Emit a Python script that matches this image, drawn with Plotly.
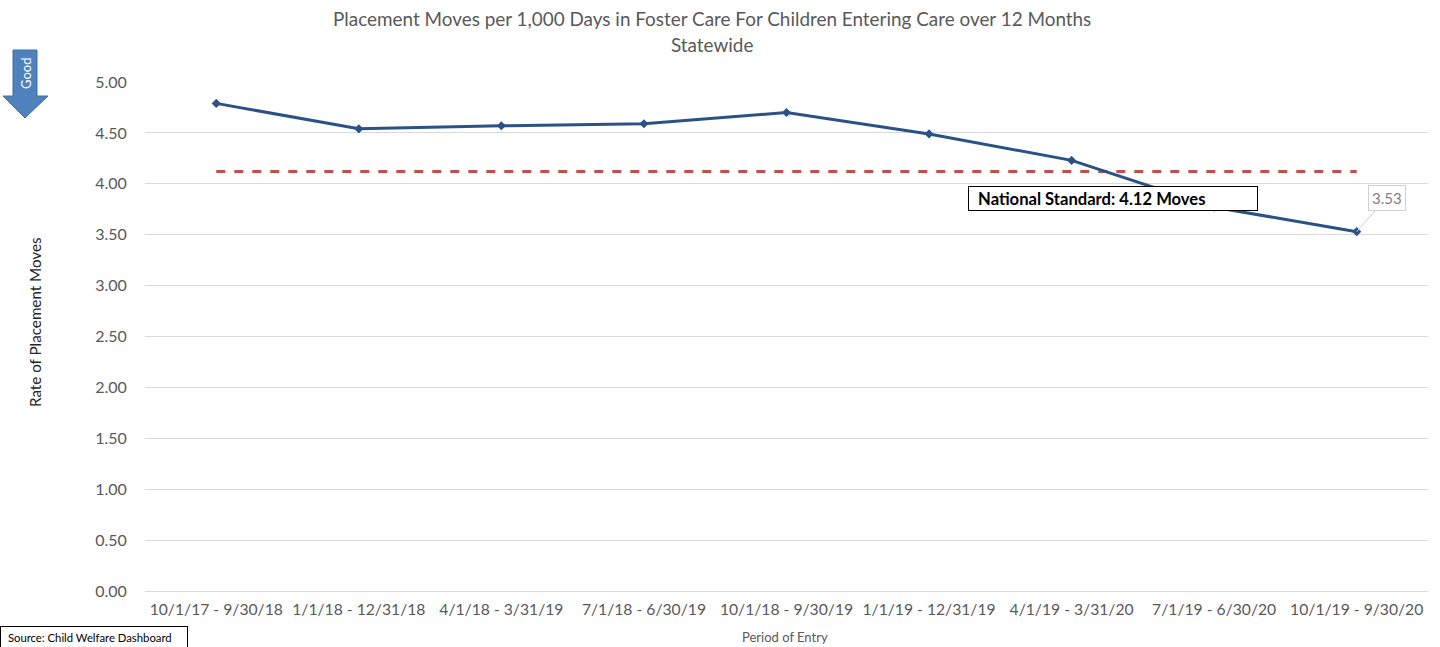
import plotly.graph_objects as go

periods = ["10/1/17 - 9/30/18", "1/1/18 - 12/31/18", "4/1/18 - 3/31/19", "7/1/18 - 6/30/19",
           "10/1/18 - 9/30/19", "1/1/19 - 12/31/19", "4/1/19 - 3/31/20", "7/1/19 - 6/30/20",
           "10/1/19 - 9/30/20"]
rates = [4.79, 4.54, 4.57, 4.59, 4.70, 4.49, 4.23, 3.77, 3.53]
national_standard = 4.12
y_ticks = [0, 0.5, 1.0, 1.5, 2.0, 2.5, 3.0, 3.5, 4.0, 4.5, 5.0]

W, H = 1440, 647
ML, MR, MT, MB = 145, 12, 82, 56
pw, ph = W - ML - MR, H - MT - MB
FONT = "Lato"

def px(x):
    return (x - ML) / pw

def py(y):
    return (H - MB - y) / ph

def note(x, y, text, **kw):
    fig.add_annotation(x=px(x), y=py(y), xref="paper", yref="paper", text=text,
                       showarrow=False, xanchor=kw.pop("xanchor", "center"),
                       yanchor=kw.pop("yanchor", "middle"), **kw)

fig = go.Figure()
fig.add_trace(go.Scatter(x=periods, y=[national_standard] * len(periods), mode="lines",
                         line=dict(color="#C0504D", width=3, dash="dash"), hoverinfo="skip",
                         showlegend=False))
fig.add_trace(go.Scatter(x=periods, y=rates, mode="lines+markers",
                         line=dict(color="#2A5287", width=3),
                         marker=dict(symbol="diamond", size=7, color="#2A5287"),
                         showlegend=False))

# Good arrow
arrow_path = (f"M {px(13)} {py(50)} L {px(37)} {py(50)} L {px(37)} {py(96)} L {px(48)} {py(96)} "
              f"L {px(25)} {py(118)} L {px(3)} {py(96)} L {px(13)} {py(96)} Z")
fig.add_shape(type="path", path=arrow_path, xref="paper", yref="paper", layer="below",
              fillcolor="#4F81BD", line=dict(color="#41719C", width=1))
note(26, 74, "Good", textangle=-90, font=dict(color="white", size=13, family=FONT))

# Titles
note(712, 19, "Placement Moves per 1,000 Days in Foster Care For Children Entering Care over 12 Months",
     font=dict(size=18.9, color="#595959", family=FONT))
note(712, 44, "Statewide", font=dict(size=18.9, color="#595959", family=FONT))
note(785, 637, "Period of Entry", font=dict(size=13, color="#595959", family=FONT))
note(35, 322, "Rate of Placement Moves", textangle=-90,
     font=dict(size=15.2, color="#262626", family=FONT))

# National standard label
note(1113, 198, "<b>\u00a0\u00a0National Standard: 4.12 Moves</b>",
     font=dict(size=16.6, color="black", family=FONT),
     bgcolor="white", bordercolor="black", borderwidth=1,
     width=286, height=21, align="left")

# Last data label
fig.add_annotation(x=periods[-1], y=rates[-1], text=f"{rates[-1]:.2f}", showarrow=True,
                   arrowhead=0, arrowcolor="#D0D0D0", arrowwidth=1, ax=30, ay=-34,
                   font=dict(size=15, color="#7F7F7F", family=FONT),
                   bgcolor="white", bordercolor="#D0D0D0", borderwidth=1, borderpad=3)

# Source box
note(0, 637, "\u00a0Source: Child Welfare Dashboard", xanchor="left",
     font=dict(size=11.3, color="black", family=FONT),
     bgcolor="white", bordercolor="black", borderwidth=1, borderpad=4,
     width=178, align="left")

fig.update_layout(
    width=W, height=H,
    margin=dict(l=ML, r=MR, t=MT, b=MB, autoexpand=False),
    plot_bgcolor="white", paper_bgcolor="white",
    font=dict(family=FONT, color="#595959"),
    xaxis=dict(showgrid=False, showline=False, ticks="outside", ticklen=4, tickcolor="white",
               tickfont=dict(size=15.7, color="#595959", family=FONT),
               range=[-0.5, len(periods) - 0.5], automargin=False),
    yaxis=dict(range=[0, 5.0], tickvals=y_ticks, ticktext=[f"{v:.2f}" for v in y_ticks],
               showgrid=True, gridcolor="#D9D9D9", gridwidth=1, zeroline=True,
               zerolinecolor="#D9D9D9", zerolinewidth=1, showline=False, automargin=False,
               tickfont=dict(size=16, color="#595959", family=FONT), ticks="outside", ticklen=14,
               tickcolor="white"),
)

fig.write_html("out.html", config={"displayModeBar": False},
               post_script="document.body.style.margin='0';document.body.style.overflow='hidden';")
